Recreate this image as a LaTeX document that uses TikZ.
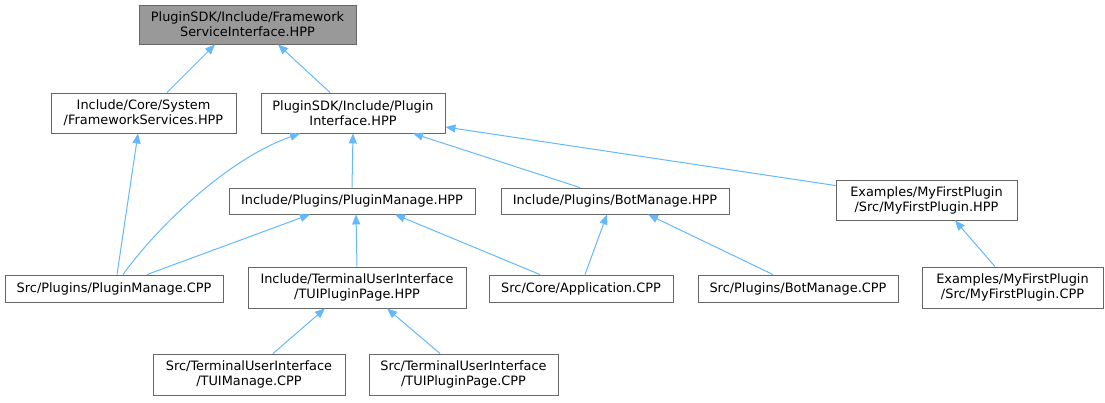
\documentclass[tikz,border=0pt]{standalone}
\usepackage{fontspec}
\setmainfont{DejaVu Sans}
\usetikzlibrary{arrows.meta}
\definecolor{edgeblue}{HTML}{63B8FF}
\definecolor{boxgray}{HTML}{666666}
\definecolor{topfill}{HTML}{999999}
\begin{document}
\begin{tikzpicture}[
        x=1pt, y=-1pt,
        file/.style={draw=boxgray, line width=0.9pt, inner sep=0pt, align=center,
            font=\fontsize{12.9}{15}\selectfont},
        root/.style={file, fill=topfill},
        dep/.style={-{Triangle[length=10pt,width=8pt]}, edgeblue, line width=1pt}
    ]
        \useasboundingbox (0,0) rectangle (1105,403);

        % Files
        \node[root, minimum width=217pt, minimum height=39pt] (fsi) at (247.5,24.5) {PluginSDK/Include/Framework\\ServiceInterface.HPP};
        \node[file, minimum width=185pt, minimum height=40pt] (fws) at (143.5,113) {Include/Core/System\\/FrameworkServices.HPP};
        \node[file, minimum width=184pt, minimum height=40pt] (pif) at (353,113) {PluginSDK/Include/Plugin\\Interface.HPP};
        \node[file, minimum width=246pt, minimum height=26pt] (pmh) at (352,201) {Include/Plugins/PluginManage.HPP};
        \node[file, minimum width=228pt, minimum height=26pt] (bmh) at (615,201) {Include/Plugins/BotManage.HPP};
        \node[file, minimum width=181pt, minimum height=40pt] (mfph) at (926.5,200) {Examples/MyFirstPlugin\\/Src/MyFirstPlugin.HPP};
        \node[file, minimum width=218pt, minimum height=27pt] (pmc) at (114,288.5) {Src/Plugins/PluginManage.CPP};
        \node[file, minimum width=218pt, minimum height=41pt] (tuih) at (357,287.5) {Include/TerminalUserInterface\\/TUIPluginPage.HPP};
        \node[file, minimum width=184pt, minimum height=27pt] (app) at (581,288.5) {Src/Core/Application.CPP};
        \node[file, minimum width=200pt, minimum height=27pt] (bmc) at (798,288.5) {Src/Plugins/BotManage.CPP};
        \node[file, minimum width=181pt, minimum height=41pt] (mfpc) at (1012.5,287.5) {Examples/MyFirstPlugin\\/Src/MyFirstPlugin.CPP};
        \node[file, minimum width=192pt, minimum height=41pt] (tuim) at (249,374.5) {Src/TerminalUserInterface\\/TUIManage.CPP};
        \node[file, minimum width=189pt, minimum height=41pt] (tuip) at (463.5,374.5) {Src/TerminalUserInterface\\/TUIPluginPage.CPP};

        % Includes
        \draw[dep] ([xshift=23.5pt]fws.north) -- ([xshift=-32.5pt]fsi.south);
        \draw[dep] ([xshift=-23pt]pif.north) -- ([xshift=30.5pt]fsi.south);
        \draw[dep] ([xshift=3pt]pmc.north) -- ([xshift=-5.5pt]fws.south);
        \draw[dep] ([xshift=9pt]pmc.north) .. controls (155,230) and (225,160) .. ([xshift=-53pt]pif.south);
        \draw[dep] (pmh.north) -- (pif.south);
        \draw[dep] ([xshift=-35pt]bmh.north) -- ([xshift=60pt]pif.south);
        \draw[dep] ([yshift=-6pt]mfph.north west) -- ([yshift=-14pt]pif.east);
        \draw[dep] ([xshift=33pt]pmc.north) -- ([xshift=-42pt]pmh.south);
        \draw[dep] (tuih.north) -- ([xshift=4pt]pmh.south);
        \draw[dep] ([xshift=-41pt]app.north) -- ([xshift=43pt]pmh.south);
        \draw[dep] ([xshift=4pt]app.north) -- ([xshift=-8pt]bmh.south);
        \draw[dep] ([xshift=-25pt]bmc.north) -- ([xshift=33pt]bmh.south);
        \draw[dep] ([xshift=-17.5pt]mfpc.north) -- ([xshift=28.5pt]mfph.south);
        \draw[dep] ([xshift=24pt]tuim.north) -- ([xshift=-32pt]tuih.south);
        \draw[dep] ([xshift=-23.5pt]tuip.north) -- ([xshift=30pt]tuih.south);
    \end{tikzpicture}
\end{document}
